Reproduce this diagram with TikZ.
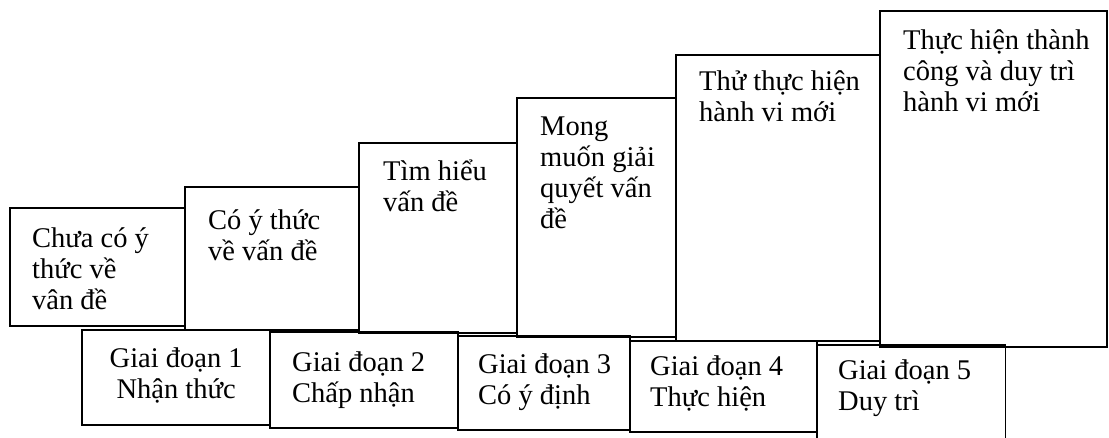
\documentclass[tikz,border=0pt]{standalone}
\usepackage{fontspec}
\setmainfont{Liberation Serif}
\begin{document}
\begin{tikzpicture}[x=1pt,y=-1pt,
  box/.style={draw, line width=1.3pt},
  area/.style={minimum width=#1, inner sep=0pt, anchor=north west},
  txt/.style={inner sep=0pt, align=left, anchor=north west,
    font=\fontsize{28.5}{31}\selectfont},
  ctxt/.style={txt, align=center, anchor=north}]
\useasboundingbox (0,0) rectangle (1109,438);
\newcommand{\fl}{\rule{0pt}{28pt}}
% upper boxes (steps)
\draw[box] (10,208) rectangle (185,326);
\node[area=175pt, minimum height=118pt] (b1) at (10,208) {};
\draw[box] (185,187) rectangle (359,330);
\node[area=174pt, minimum height=143pt] (b2) at (185,187) {};
\draw[box] (359,143) rectangle (517,333);
\node[area=158pt, minimum height=190pt] (b3) at (359,143) {};
\draw[box] (517,98) rectangle (676,337);
\node[area=159pt, minimum height=239pt] (b4) at (517,98) {};
\draw[box] (676,55) rectangle (880,341);
\node[area=204pt, minimum height=286pt] (b5) at (676,55) {};
\draw[box] (880,11) rectangle (1107,347);
\node[area=227pt, minimum height=336pt] (b6) at (880,11) {};
% upper texts
\node[txt] (t1) at ([xshift=22pt,yshift=-11pt]b1.north west) {\fl Chưa có ý\\thức về\\vân đề};
\node[txt] (t2) at ([xshift=23pt,yshift=-14pt]b2.north west) {\fl Có ý thức\\về vấn đề};
\node[txt] (t3) at ([xshift=24pt,yshift=-9pt]b3.north west) {\fl Tìm hiểu\\vấn đề};
\node[txt] (t4) at ([xshift=23pt,yshift=-9pt]b4.north west) {\fl Mong\\muốn giải\\quyết vấn\\đề};
\node[txt] (t5) at ([xshift=23pt,yshift=-7pt]b5.north west) {\fl Thử thực hiện\\hành vi mới};
\node[txt] (t6) at ([xshift=23pt,yshift=-10pt]b6.north west) {\fl Thực hiện thành\\công và duy trì\\hành vi mới};
% lower boxes (stages)
\draw[box] (82,330) rectangle (270,425);
\node[area=188pt, minimum height=95pt] (g1) at (82,330) {};
\draw[box] (270,332) rectangle (458,428);
\node[area=188pt, minimum height=96pt] (g2) at (270,332) {};
\draw[box] (458,336) rectangle (630,430);
\node[area=172pt, minimum height=94pt] (g3) at (458,336) {};
\draw[box] (630,341) rectangle (817,432);
\node[area=187pt, minimum height=91pt] (g4) at (630,341) {};
\node[area=188pt, minimum height=93pt] (g5) at (817,345) {};
\draw[box] (g5.south west) -- (g5.north west) -- (g5.north east) -- (g5.south east);
% lower texts
\node[ctxt] (s1) at ([yshift=-9pt]g1.north) {\fl Giai đoạn 1\\Nhận thức};
\node[txt] (s2) at ([xshift=22pt,yshift=-11pt]g2.north west) {\fl Giai đoạn 2\\Chấp nhận};
\node[txt] (s3) at ([xshift=20pt,yshift=-9pt]g3.north west) {\fl Giai đoạn 3\\Có ý định};
\node[txt] (s4) at ([xshift=20pt,yshift=-6pt]g4.north west) {\fl Giai đoạn 4\\Thực hiện};
\node[txt] (s5) at ([xshift=21pt,yshift=-6pt]g5.north west) {\fl Giai đoạn 5\\Duy trì};
\end{tikzpicture}
\end{document}
